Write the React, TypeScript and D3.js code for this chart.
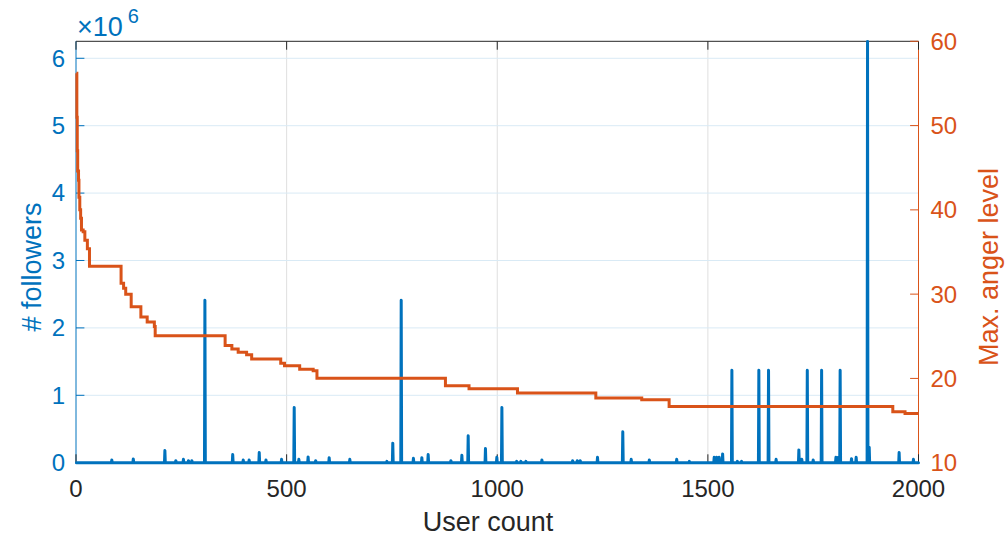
import React from "react";
import * as d3 from "d3";

// ---- data ----
const userCount = 2000;
const xTickValues = [0, 500, 1000, 1500, 2000];
const followerTickValues = [0, 1, 2, 3, 4, 5, 6]; // ×10^6
const angerTickValues = [10, 20, 30, 40, 50, 60];

// followers per user (sorted by anger); users not listed have ~0 followers
const followerSpikeUsers = [
  85, 136, 211, 237, 255, 267, 275, 306, 372, 397, 411, 435, 451, 488,
  518, 529, 551, 569, 601, 650, 738, 752, 772, 801, 821, 836, 890, 916, 931, 972, 999, 1011,
  1046, 1056, 1068, 1106, 1179, 1190, 1197, 1238, 1298, 1318, 1361, 1426, 1456,
  1515, 1521, 1527, 1535, 1557, 1570, 1580, 1621, 1644, 1662, 1716, 1723, 1736, 1750, 1770,
  1804, 1810, 1814, 1841, 1852, 1879, 1883, 1954, 1988,
];
const followerSpikeValues = [
  0.04e6, 0.055e6, 0.18e6, 0.03e6, 0.05e6, 0.03e6, 0.03e6, 2.41e6, 0.12e6, 0.04e6, 0.04e6, 0.15e6, 0.04e6, 0.05e6,
  0.82e6, 0.05e6, 0.085e6, 0.03e6, 0.075e6, 0.05e6, 0.02e6, 0.29e6, 2.41e6, 0.065e6, 0.075e6, 0.12e6, 0.03e6, 0.11e6, 0.4e6, 0.21e6, 0.08e6, 0.82e6,
  0.02e6, 0.02e6, 0.02e6, 0.04e6, 0.03e6, 0.03e6, 0.03e6, 0.08e6, 0.46e6, 0.05e6, 0.04e6, 0.05e6, 0.02e6,
  0.08e6, 0.08e6, 0.08e6, 0.13e6, 1.37e6, 0.02e6, 0.02e6, 1.37e6, 1.37e6, 0.05e6, 0.19e6, 0.05e6, 1.37e6, 0.04e6, 1.37e6,
  0.08e6, 0.08e6, 1.37e6, 0.06e6, 0.08e6, 6.25e6, 0.23e6, 0.15e6, 0.05e6,
];

// max anger level: each entry starts a run that lasts until the next one
const angerRunStarts = [
  1, 2, 3, 4, 6, 7, 9, 11, 13, 17, 21, 27, 32, 107, 113, 118, 131, 154, 169, 186, 188,
  354, 370, 385, 405, 417, 486, 495, 531, 563, 572, 877, 933, 1048, 1234, 1343, 1408, 1939, 1968, 2000,
];
const angerRunLevels = [
  56.2, 51, 47, 44.6, 43.5, 41.5, 40, 39, 37.6, 37.4, 36.4, 35.4, 33.3, 31.3, 30.7, 30.0, 28.5, 27.3, 26.7, 26.15, 25.05,
  23.9, 23.5, 23.1, 22.8, 22.29, 21.8, 21.5, 21.1, 20.9, 20.03, 19.12, 18.77, 18.26, 17.67, 17.47, 16.67, 16.05, 15.85, 15.85,
];

// ---- look ----
const W = 1007;
const H = 539;
const left = 76;
const right = 918.5;
const top = 41.3;
const bottom = 462.7;
const blue = "#0072BD";
const orange = "#D95319";
const dark = "#262626";
const font = "'Liberation Sans', Arial, Helvetica, sans-serif";
const tickLen = 8.4;
const labelCenterY = 267;

export default function App() {
  const x = d3.scaleLinear().domain([0, userCount]).range([left, right]);
  const yL = d3.scaleLinear().domain([0, 6.252e6]).range([bottom, top]);
  const yR = d3.scaleLinear().domain([10, 60]).range([bottom, top]);

  const followers: [number, number][] = [];
  const spikeMap = new Map<number, number>();
  followerSpikeUsers.forEach((u, i) => spikeMap.set(u, followerSpikeValues[i]));
  for (let i = 1; i <= userCount; i++) followers.push([i, spikeMap.get(i) ?? 0]);

  const anger: [number, number][] = angerRunStarts.map((s, i) => [s, angerRunLevels[i]]);

  const followerLine = d3
    .line<[number, number]>()
    .x((d) => x(d[0]))
    .y((d) => yL(d[1]));
  const angerLine = d3
    .line<[number, number]>()
    .x((d) => x(d[0]))
    .y((d) => yR(d[1]))
    .curve(d3.curveStepAfter);

  return (
    <svg
      width={W}
      height={H}
      style={{ position: "absolute", left: 0, top: 0, background: "#fff" }}
      fontFamily={font}
    >
      <rect x={0} y={0} width={W} height={H} fill="#fff" />
      {/* grid */}
      {xTickValues.slice(1, -1).map((t) => (
        <line key={"gx" + t} x1={x(t)} x2={x(t)} y1={top} y2={bottom} stroke="#dfdfdf" strokeWidth={1} />
      ))}
      {followerTickValues.slice(1).map((t) => (
        <line key={"gy" + t} x1={left} x2={right} y1={yL(t * 1e6)} y2={yL(t * 1e6)} stroke="#d9eaf5" strokeWidth={1} />
      ))}

      {/* box and axes */}
      <line x1={left} x2={right} y1={top} y2={top} stroke={dark} strokeWidth={1} />
      <line x1={left} x2={right} y1={bottom} y2={bottom} stroke={dark} strokeWidth={1} />
      <line x1={left} x2={left} y1={top} y2={bottom} stroke={blue} strokeWidth={1} />
      <line x1={right} x2={right} y1={top} y2={bottom} stroke={orange} strokeWidth={1} />

      {xTickValues.map((t) => (
        <g key={"xt" + t}>
          <line x1={x(t)} x2={x(t)} y1={bottom} y2={bottom - tickLen} stroke={dark} />
          <line x1={x(t)} x2={x(t)} y1={top} y2={top + tickLen} stroke={dark} />
          <text x={x(t)} y={497} textAnchor="middle" fontSize={24} fill={dark}>
            {t}
          </text>
        </g>
      ))}
      {followerTickValues.map((t) => (
        <g key={"yl" + t}>
          <line x1={left} x2={left + tickLen} y1={yL(t * 1e6)} y2={yL(t * 1e6)} stroke={blue} />
          <text x={left - 11} y={yL(t * 1e6)} dy="0.35em" textAnchor="end" fontSize={24} fill={blue}>
            {t}
          </text>
        </g>
      ))}
      {angerTickValues.map((t) => (
        <g key={"yr" + t}>
          <line x1={right} x2={right - tickLen} y1={yR(t)} y2={yR(t)} stroke={orange} />
          <text x={right + 12} y={yR(t)} dy="0.35em" textAnchor="start" fontSize={24} fill={orange}>
            {t}
          </text>
        </g>
      ))}

      {/* data */}
      <path
        d={followerLine(followers) ?? ""}
        fill="none"
        stroke={blue}
        strokeWidth={3}
        strokeLinejoin="round"
        strokeLinecap="round"
      />
      <path d={angerLine(anger) ?? ""} fill="none" stroke={orange} strokeWidth={3} strokeLinejoin="miter" />

      {/* exponent */}
      <text x={77} y={36} fontSize={27} fill={blue}>
        ×10
        <tspan fontSize={20} dx={5} dy={-13}>
          6
        </tspan>
      </text>

      {/* labels */}
      <text x={488} y={531} textAnchor="middle" fontSize={27} fill={dark}>
        User count
      </text>
      <text
        transform={`translate(41, ${labelCenterY}) rotate(-90)`}
        textAnchor="middle"
        fontSize={27}
        fill={blue}
      >
        # followers
      </text>
      <text
        transform={`translate(998, ${labelCenterY}) rotate(-90)`}
        textAnchor="middle"
        fontSize={27}
        fill={orange}
      >
        Max. anger level
      </text>
    </svg>
  );
}
